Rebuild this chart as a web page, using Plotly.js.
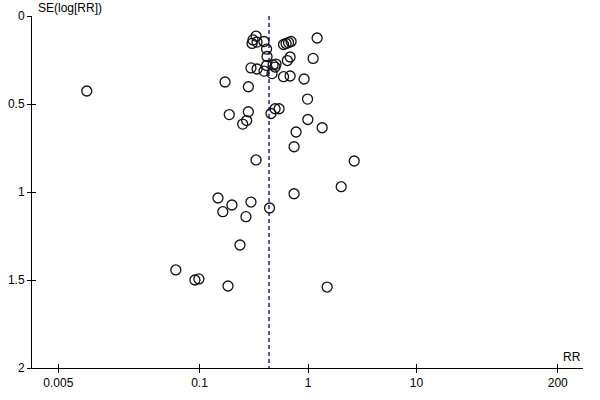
<!DOCTYPE html>
<html>
<head>
<meta charset="utf-8">
<script src="https://cdn.plot.ly/plotly-3.0.1.min.js"></script>
<style>
  html, body { margin: 0; padding: 0; background: #fff; }
  #plot { width: 600px; height: 400px; }
</style>
</head>
<body>
<div id="plot"></div>
<script>
"use strict";

// Funnel plot: risk ratio of each study vs its standard error.
const studyRR = [
    0.332, 0.311, 0.305, 0.339, 0.393, 0.415, 0.419,
    0.595, 0.628, 0.662, 0.698, 1.213, 0.684, 0.645, 1.114,
    0.298, 0.339, 0.393, 0.415, 0.476, 0.507, 0.497, 0.466,
    0.595, 0.684, 0.920, 0.172, 0.282, 0.990,
    0.188, 0.282, 0.272, 0.250, 0.456, 0.497, 0.541, 0.996, 1.350,
    0.776, 0.744, 0.332, 2.664, 2.022, 0.744,
    0.148, 0.199, 0.298, 0.164, 0.268, 0.442, 0.236,
    0.0605, 0.0907, 0.0987, 0.183, 1.500, 0.00914
];
const studySE = [
    0.114, 0.136, 0.156, 0.148, 0.145, 0.188, 0.230,
    0.162, 0.156, 0.151, 0.145, 0.125, 0.233, 0.253, 0.241,
    0.295, 0.301, 0.313, 0.281, 0.278, 0.273, 0.290, 0.327,
    0.345, 0.341, 0.358, 0.375, 0.402, 0.472,
    0.560, 0.544, 0.594, 0.614, 0.554, 0.527, 0.527, 0.588, 0.635,
    0.659, 0.743, 0.818, 0.824, 0.970, 1.010,
    1.034, 1.074, 1.057, 1.112, 1.140, 1.091, 1.301,
    1.443, 1.500, 1.494, 1.534, 1.540, 0.426
];
const pooledRR = 0.437;
const seLimits = [0, 2];

const xTickVals = [0.005, 0.1, 1, 10, 200];
const xTickText = ["0.005", "0.1", "1", "10", "200"];
const yTickVals = [0, 0.5, 1, 1.5, 2];
const yTickText = ["0", "0.5", "1", "1.5", "2"];

const FONT = "Liberation Sans, Arial, sans-serif";
const xRange = [Math.log10(0.00286), Math.log10(342)];
const yRange = [2, 0];

const traces = [
    {
        type: "scatter", mode: "lines",
        x: [pooledRR, pooledRR], y: seLimits,
        line: { color: "#00007A", width: 1.3, dash: "4px,3px" },
        hoverinfo: "skip", showlegend: false,
    },
    {
        type: "scatter", mode: "markers",
        x: studyRR, y: studySE,
        marker: {
            symbol: "circle-open", size: 10, color: "#111111",
            line: { width: 1.3 },
        },
        showlegend: false,
    },
    // empty trace so the overlay axes (inner half of the ticks) get drawn
    { type: "scatter", x: [], y: [], xaxis: "x2", yaxis: "y2", showlegend: false },
];

const baseAxis = {
    showgrid: false, zeroline: false,
    tickfont: { family: FONT, size: 12, color: "#000" },
    tickcolor: "#000", tickwidth: 1, ticklen: 4,
};

const layout = {
    width: 600, height: 400,
    margin: { l: 32, r: 17, t: 16, b: 32 },
    paper_bgcolor: "#fff", plot_bgcolor: "#fff",
    font: { family: FONT, size: 12, color: "#000" },
    xaxis: Object.assign({}, baseAxis, {
        type: "log", range: xRange,
        tickvals: xTickVals, ticktext: xTickText,
        ticks: "outside", showline: true, linecolor: "#000", linewidth: 1,
        anchor: "y",
    }),
    yaxis: Object.assign({}, baseAxis, {
        range: yRange,
        tickvals: yTickVals, ticktext: yTickText,
        ticks: "outside", showline: true, linecolor: "#000", linewidth: 1,
        anchor: "x",
    }),
    xaxis2: Object.assign({}, baseAxis, {
        type: "log", range: xRange, overlaying: "x", anchor: "y2", side: "bottom",
        tickvals: xTickVals, ticks: "inside", showticklabels: false, showline: false,
    }),
    yaxis2: Object.assign({}, baseAxis, {
        range: yRange, overlaying: "y", anchor: "x2", side: "left",
        tickvals: yTickVals, ticks: "inside", showticklabels: false, showline: false,
    }),
    annotations: [
        {
            xref: "paper", yref: "paper", x: 0, y: 1,
            xanchor: "left", yanchor: "middle", xshift: 4, yshift: 8,
            text: "SE(log[RR])", showarrow: false,
            font: { family: FONT, size: 12, color: "#000" },
        },
        {
            xref: "paper", yref: "paper", x: 1, y: 0,
            xanchor: "right", yanchor: "bottom", yshift: 2,
            text: "RR", showarrow: false,
            font: { family: FONT, size: 12, color: "#000" },
        },
    ],
};

Plotly.newPlot("plot", traces, layout, { displayModeBar: false, staticPlot: true });
</script>
</body>
</html>
